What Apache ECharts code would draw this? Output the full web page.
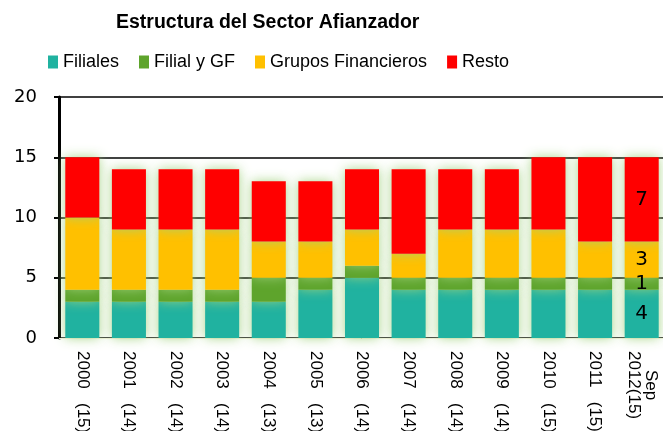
<!DOCTYPE html>
<html>
<head>
<meta charset="utf-8">
<script src="https://cdn.jsdelivr.net/npm/echarts@6/dist/echarts.min.js"></script>
<style>
  html, body { margin: 0; padding: 0; background: #fff; }
  #main { width: 663px; height: 431px; }
</style>
</head>
<body>
<div id="main"></div>
<script>
// estructura del sector afianzador, numero de instituciones por tipo
var categorias = ['2000   (15)', '2001   (14)', '2002   (14)', '2003   (14)', '2004   (13)', '2005   (13)',
    '2006   (14)', '2007   (14)', '2008   (14)', '2009   (14)', '2010   (15)', '2011   (15)', '    Sep\n2012(15)'];
var filiales = [3, 3, 3, 3, 3, 4, 5, 4, 4, 4, 4, 4, 4];
var filialGF = [1, 1, 1, 1, 2, 1, 1, 1, 1, 1, 1, 1, 1];
var grupos = [6, 5, 5, 5, 3, 3, 3, 2, 4, 4, 4, 3, 3];
var resto = [5, 5, 5, 5, 5, 5, 5, 7, 5, 5, 6, 7, 7];

var chart = echarts.init(document.getElementById('main'));

// solo la ultima barra lleva etiquetas
function conEtiqueta(arr) {
    return arr.map(function (v, i) {
        return {
            value: v,
            label: { show: i === arr.length - 1 }
        };
    });
}

function serie(nombre, color, datos) {
    return {
        name: nombre,
        type: 'bar',
        stack: 'total',
        barCategoryGap: '27%',
        data: conEtiqueta(datos),
        itemStyle: {
            color: color,
            shadowColor: 'rgba(160, 210, 125, 0.9)',
            shadowBlur: 12
        },
        label: {
            position: 'inside',
            color: '#000',
            fontSize: 20,
            fontFamily: 'DejaVu Sans'
        }
    };
}

var option = {
    animation: false,
    backgroundColor: '#fff',
    title: {
        text: 'Estructura del Sector Afianzador',
        left: 111,
        top: 8,
        textStyle: {
            fontFamily: 'Liberation Sans',
            fontWeight: 'bold',
            fontSize: 19.5,
            color: '#000'
        }
    },
    legend: {
        left: 43,
        top: 48,
        itemWidth: 10,
        itemHeight: 13,
        itemGap: 20,
        icon: 'rect',
        textStyle: {
            fontFamily: 'Liberation Sans',
            fontSize: 18,
            color: '#000'
        },
        data: ['Filiales', 'Filial y GF', 'Grupos Financieros', 'Resto']
    },
    grid: {
        left: 59,
        right: -2,
        top: 97,
        bottom: 93,
        outerBoundsMode: 'none'
    },
    xAxis: {
        type: 'category',
        data: categorias,
        axisLine: { show: true, lineStyle: { color: '#f4f4e0', width: 1 } },
        axisTick: { show: false },
        axisLabel: {
            rotate: -90,
            interval: 0,
            margin: 13,
            color: '#000',
            fontSize: 17,
            fontFamily: 'Liberation Sans'
        }
    },
    yAxis: {
        type: 'value',
        min: 0,
        max: 20,
        interval: 5,
        axisLine: { show: true, lineStyle: { color: '#000', width: 3 } },
        axisTick: { show: true, length: 5, lineStyle: { color: '#000', width: 2 } },
        axisLabel: {
            margin: 22,
            color: '#000',
            fontSize: 18,
            fontFamily: 'DejaVu Sans'
        },
        splitLine: { show: true, lineStyle: { color: '#000', width: 1.5 } }
    },
    series: [
        serie('Filiales', '#20b2a0', filiales),
        serie('Filial y GF', '#5ea42c', filialGF),
        serie('Grupos Financieros', '#ffc000', grupos),
        serie('Resto', '#ff0000', resto)
    ]
};

chart.setOption(option);
</script>
</body>
</html>
